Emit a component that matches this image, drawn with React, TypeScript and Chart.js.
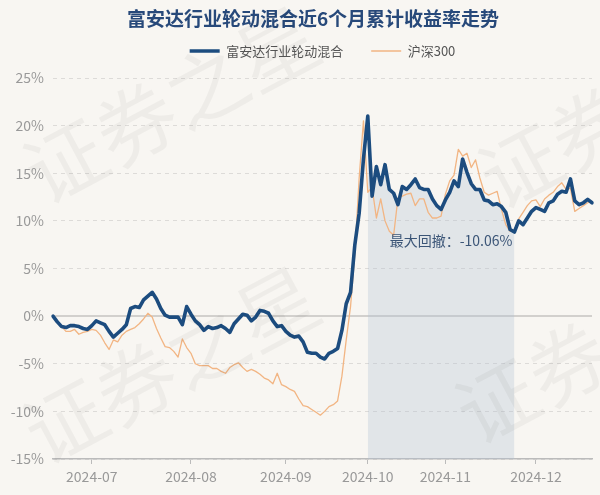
import React, { useEffect, useRef } from 'react';
import { Chart, registerables } from 'chart.js';

Chart.register(...registerables);

const FONT = '"Noto Sans CJK SC", "Noto Sans", sans-serif';
const BG = '#f8f6f2';

const chartTitle = '富安达行业轮动混合近6个月累计收益率走势';
const fundName = '富安达行业轮动混合';
const benchName = '沪深300';
const drawdownText = '最大回撤：-10.06%';
const watermarkText = '证券之星';

const tradeDates = [
  '2024-06-18', '2024-06-19', '2024-06-20', '2024-06-21', '2024-06-24', '2024-06-25', '2024-06-26', '2024-06-27', '2024-06-28',
  '2024-07-01', '2024-07-02', '2024-07-03', '2024-07-04', '2024-07-05', '2024-07-08', '2024-07-09', '2024-07-10', '2024-07-11', '2024-07-12',
  '2024-07-15', '2024-07-16', '2024-07-17', '2024-07-18', '2024-07-19', '2024-07-22', '2024-07-23', '2024-07-24', '2024-07-25', '2024-07-26',
  '2024-07-29', '2024-07-30', '2024-07-31',
  '2024-08-01', '2024-08-02', '2024-08-05', '2024-08-06', '2024-08-07', '2024-08-08', '2024-08-09', '2024-08-12', '2024-08-13', '2024-08-14',
  '2024-08-15', '2024-08-16', '2024-08-19', '2024-08-20', '2024-08-21', '2024-08-22', '2024-08-23', '2024-08-26', '2024-08-27', '2024-08-28',
  '2024-08-29', '2024-08-30',
  '2024-09-02', '2024-09-03', '2024-09-04', '2024-09-05', '2024-09-06', '2024-09-09', '2024-09-10', '2024-09-11', '2024-09-12', '2024-09-13',
  '2024-09-18', '2024-09-19', '2024-09-20', '2024-09-23', '2024-09-24', '2024-09-25', '2024-09-26', '2024-09-27', '2024-09-30',
  '2024-10-08', '2024-10-09', '2024-10-10', '2024-10-11', '2024-10-14', '2024-10-15', '2024-10-16', '2024-10-17', '2024-10-18', '2024-10-21',
  '2024-10-22', '2024-10-23', '2024-10-24', '2024-10-25', '2024-10-28', '2024-10-29', '2024-10-30', '2024-10-31',
  '2024-11-01', '2024-11-04', '2024-11-05', '2024-11-06', '2024-11-07', '2024-11-08', '2024-11-11', '2024-11-12', '2024-11-13', '2024-11-14',
  '2024-11-15', '2024-11-18', '2024-11-19', '2024-11-20', '2024-11-21', '2024-11-22', '2024-11-25', '2024-11-26', '2024-11-27', '2024-11-28',
  '2024-11-29',
  '2024-12-02', '2024-12-03', '2024-12-04', '2024-12-05', '2024-12-06', '2024-12-09', '2024-12-10', '2024-12-11', '2024-12-12', '2024-12-13',
  '2024-12-16', '2024-12-17', '2024-12-18', '2024-12-19',
];

const fundReturns = [
  0, -0.6, -1.1, -1.2, -1.0, -1.0, -1.1, -1.3, -1.4, -1.0,
  -0.5, -0.7, -0.9, -1.6, -2.2, -1.8, -1.4, -0.9, 0.8, 1.0,
  0.9, 1.7, 2.1, 2.5, 1.8, 0.8, 0.1, -0.1, -0.1, -0.1,
  -0.9, 1.0, 0.2, -0.5, -0.9, -1.5, -1.1, -1.3, -1.2, -1.0,
  -1.3, -1.7, -0.8, -0.3, 0.2, 0.1, -0.5, -0.1, 0.6, 0.5,
  0.3, -0.5, -1.1, -1.0, -1.6, -2.0, -2.2, -2.1, -2.7, -3.8,
  -3.9, -3.9, -4.3, -4.5, -3.9, -3.7, -3.4, -1.5, 1.3, 2.5,
  7.5, 10.8, 16.5, 21.0, 12.6, 15.7, 13.8, 15.9, 13.3, 12.9,
  11.7, 13.6, 13.3, 13.8, 14.4, 13.5, 13.3, 13.3, 12.3, 11.6,
  11.2, 12.2, 13.0, 14.2, 13.6, 16.5, 15.1, 13.9, 13.3, 13.3,
  12.2, 12.1, 11.7, 11.8, 11.5, 10.9, 9.1, 8.83, 10.0, 9.6,
  10.3, 11.0, 11.4, 11.2, 11.0, 11.9, 12.1, 12.8, 13.1, 13.0,
  14.4, 12.1, 11.7, 11.9, 12.25, 11.9,
];

const benchReturns = [
  0, -0.6, -1.1, -1.6, -1.6, -1.4, -1.9, -1.7, -1.6, -1.4,
  -1.5, -2.0, -2.8, -3.5, -2.5, -2.7, -2.0, -1.6, -1.4, -1.2,
  -0.8, -0.3, 0.3, -0.1, -1.3, -2.3, -3.2, -3.3, -3.7, -4.3,
  -2.4, -3.3, -3.9, -5.0, -5.2, -5.2, -5.2, -5.5, -5.5, -5.8,
  -6.0, -5.4, -5.1, -4.9, -5.4, -5.8, -5.6, -5.8, -6.1, -6.5,
  -6.7, -7.1, -6.0, -7.2, -7.4, -7.7, -7.9, -8.7, -9.4, -9.5,
  -9.8, -10.1, -10.4, -10.0, -9.5, -9.3, -8.9, -6.3, -2.5, 1.0,
  6.5, 14.5, 20.5, 13.0, 13.5, 10.3, 12.3, 10.0, 8.9, 8.5,
  12.4, 12.6, 12.8, 12.9, 11.6, 12.3, 12.3, 10.9, 10.3, 10.3,
  10.5, 12.8, 14.2, 14.8, 17.5, 16.8, 17.1, 15.6, 16.4, 14.5,
  13.0, 12.7, 12.9, 13.1, 11.2, 9.6, 8.9, 9.0, 10.2, 10.9,
  11.6, 12.1, 12.2, 11.5, 12.3, 12.7, 13.0, 13.6, 14.0, 13.3,
  13.4, 11.0, 11.3, 11.6, 11.9, 12.1,
];

const yTickValues = [-15, -10, -5, 0, 5, 10, 15, 20, 25];

function findMaxDrawdown(vals: number[]) {
  let peakIdx = 0;
  let best = 0;
  let bp = 0;
  let bt = 0;
  for (let i = 0; i < vals.length; i++) {
    const nav = 1 + vals[i] / 100;
    if (nav > 1 + vals[peakIdx] / 100) peakIdx = i;
    const d = nav / (1 + vals[peakIdx] / 100) - 1;
    if (d < best) {
      best = d;
      bp = peakIdx;
      bt = i;
    }
  }
  return { peak: bp, trough: bt };
}

const dd = findMaxDrawdown(fundReturns);
const drawdownArea = fundReturns.map((v, i) => (i >= dd.peak && i <= dd.trough ? v : null));

const bgPlugin = {
  id: 'bgFill',
  beforeDraw(chart: any) {
    const { ctx, width, height } = chart;
    ctx.save();
    ctx.fillStyle = BG;
    ctx.fillRect(0, 0, width, height);
    ctx.restore();
  },
};

const legendSpacer = {
  id: 'legendSpacer',
  beforeLayout(chart: any) {
    const lg = chart.legend;
    if (lg && !lg._spacerPatched) {
      const fit = lg.fit.bind(lg);
      lg.fit = function () {
        fit();
        this.height += 10.5;
      };
      lg._spacerPatched = true;
    }
  },
};

const overlayPlugin = {
  id: 'overlay',
  afterDatasetsDraw(chart: any) {
    const { ctx, scales } = chart;
    const x = scales.x.getPixelForValue(dd.trough) - 2;
    const y = scales.y.getPixelForValue(fundReturns[dd.trough]) + 9;
    ctx.save();
    ctx.font = `14px ${FONT}`;
    ctx.fillStyle = '#3b5577';
    ctx.textAlign = 'right';
    ctx.textBaseline = 'middle';
    ctx.fillText(drawdownText, x, y);
    ctx.restore();
  },
  afterDraw(chart: any) {
    const { ctx } = chart;
    ctx.save();
    ctx.font = `bold 19px ${FONT}`;
    ctx.fillStyle = '#27497a';
    ctx.textAlign = 'center';
    ctx.textBaseline = 'middle';
    ctx.fillText(chartTitle, 313, 19);
    ctx.restore();

    const marks = [
      [30, 180],
      [30, 440],
      [485, 185],
      [462, 420],
    ];
    ctx.save();
    ctx.font = `80px ${FONT}`;
    ctx.fillStyle = 'rgba(0,0,0,0.04)';
    ctx.textAlign = 'left';
    ctx.textBaseline = 'middle';
    for (const [mx, my] of marks) {
      ctx.save();
      ctx.translate(mx, my);
      ctx.rotate(-0.49);
      ctx.fillText(watermarkText, 0, 0);
      ctx.restore();
    }
    ctx.restore();
  },
};

export default function App() {
  const ref = useRef<HTMLCanvasElement>(null);
  useEffect(() => {
    document.body.style.margin = '0';
    document.body.style.background = BG;
    const chart = new Chart(ref.current as HTMLCanvasElement, {
      type: 'line',
      data: {
        labels: tradeDates,
        datasets: [
          {
            label: fundName,
            data: fundReturns,
            borderColor: '#1c4c7f',
            backgroundColor: '#1c4c7f',
            borderWidth: 3.6,
            borderJoinStyle: 'round',
            borderCapStyle: 'round',
            pointRadius: 0,
            tension: 0,
            fill: false,
          },
          {
            label: benchName,
            data: benchReturns,
            borderColor: '#f2b583',
            backgroundColor: '#f2b583',
            borderWidth: 1.3,
            borderJoinStyle: 'round',
            pointRadius: 0,
            tension: 0,
            fill: false,
          },
          {
            label: 'drawdown',
            data: drawdownArea as any,
            borderWidth: 0,
            borderColor: 'rgba(0,0,0,0)',
            backgroundColor: 'rgba(176,192,210,0.32)',
            pointRadius: 0,
            tension: 0,
            fill: 'start',
            spanGaps: false,
          },
        ],
      },
      options: {
        responsive: false,
        animation: false,
        events: [],
        layout: { padding: { top: 16.5, right: 8, bottom: 0, left: 0 } },
        plugins: {
          title: { display: false },
          tooltip: { enabled: false },
          legend: {
            display: true,
            position: 'top',
            fullSize: false,
            labels: {
              usePointStyle: true,
              pointStyle: 'line',
              pointStyleWidth: 30,
              padding: 28,
              color: '#555',
              font: { size: 13, family: FONT },
              filter: (item: any) => item.datasetIndex !== 2,
            },
          },
        },
        scales: {
          x: {
            type: 'category',
            offset: false,
            afterBuildTicks: (scale: any) => {
              scale.ticks = scale.ticks.filter((t: any) => {
                const i = t.value;
                return i > 0 && tradeDates[i].slice(0, 7) !== tradeDates[i - 1].slice(0, 7);
              });
            },
            afterFit: (scale: any) => {
              scale.height = 36;
            },
            ticks: {
              autoSkip: false,
              maxRotation: 0,
              minRotation: 0,
              padding: 4,
              color: '#999',
              font: { size: 14, family: FONT },
              callback: (v: any) => tradeDates[v].slice(0, 7),
            },
            grid: {
              display: true,
              drawOnChartArea: false,
              drawTicks: true,
              tickLength: 5,
              color: '#bbb',
            },
            border: { display: true, color: '#bbb', width: 1.5 },
          },
          y: {
            min: -15,
            max: 25,
            afterBuildTicks: (scale: any) => {
              scale.ticks = yTickValues.map((v) => ({ value: v }));
            },
            afterFit: (scale: any) => {
              scale.width = 53;
            },
            ticks: {
              padding: 9,
              color: '#999',
              font: { size: 14, family: FONT },
              callback: (v: any) => `${v}%`,
            },
            grid: {
              drawTicks: false,
              color: (ctx: any) => (ctx.tick && ctx.tick.value === 0 ? '#d2d0cd' : '#dddbd8'),
              lineWidth: (ctx: any) => (ctx.tick && ctx.tick.value === 0 ? 2 : 1),
            },
            border: {
              display: false,
              dash: (ctx: any) => (ctx.tick && ctx.tick.value === 0 ? [] : [4, 4]),
            },
          },
        },
      },
      plugins: [bgPlugin, legendSpacer, overlayPlugin],
    } as any);
    return () => chart.destroy();
  }, []);
  return (
    <div style={{ width: 600, height: 495 }}>
      <canvas ref={ref} width={600} height={495} style={{ display: 'block' }} />
    </div>
  );
}
